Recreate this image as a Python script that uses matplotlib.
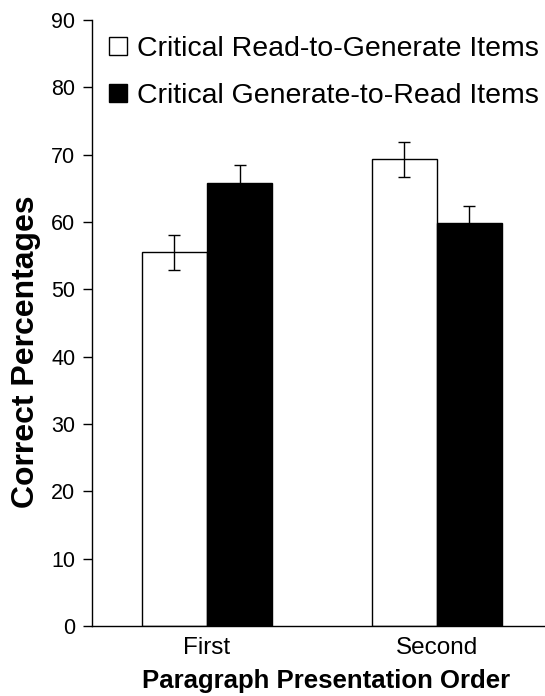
import numpy as np
import matplotlib
matplotlib.use('Agg')
import matplotlib.pyplot as plt
from matplotlib.patches import Patch

plt.rcParams['font.family'] = ['Liberation Sans', 'DejaVu Sans']

# data
orders = ['First', 'Second']
read_to_generate = [55.5, 69.3]
generate_to_read = [65.8, 59.8]
err_rtg = [2.6, 2.6]
err_gtr = [2.6, 2.6]
series_labels = ['Critical Read-to-Generate Items', 'Critical Generate-to-Read Items']

fig = plt.figure(figsize=(5.45, 6.96), dpi=100)
ax = fig.add_axes([92/545, 1 - 626/696, 1 - 92/545, (626 - 20)/696])

x = np.arange(len(orders))
w = 0.283
ekw = dict(elinewidth=1.0, capthick=1.0, ecolor='black')
ax.bar(x - w/2, read_to_generate, w, color='white', edgecolor='black', linewidth=1.0,
       yerr=err_rtg, capsize=4.5, error_kw=ekw)
ax.bar(x + w/2, generate_to_read, w, color='black', edgecolor='black', linewidth=1.0,
       yerr=err_gtr, capsize=4.5, error_kw=ekw)

ax.set_xlim(-0.5, 1.47)
ax.set_ylim(0, 90)
ax.set_yticks(np.arange(0, 91, 10))
ax.set_xticks(x)
ax.set_xticklabels(orders)
ax.tick_params(axis='x', length=0, pad=8, labelsize=17.5)
ax.tick_params(axis='y', length=6.5, width=1, direction='out', labelsize=15.5, pad=5.5)
for s in ['top', 'right']:
    ax.spines[s].set_visible(False)
ax.spines['left'].set_linewidth(1.0)
ax.spines['bottom'].set_linewidth(1.0)

ax.set_ylabel('Correct Percentages', fontsize=23, fontweight='bold')
ax.yaxis.set_label_coords(-0.113, 0.453)
ax.set_xlabel('Paragraph Presentation Order', fontsize=18.5, fontweight='bold')
ax.xaxis.label.set_va('baseline')
ax.xaxis.set_label_coords(0.517, -0.103)

handles = [Patch(facecolor='white', edgecolor='black', linewidth=1.0),
           Patch(facecolor='black', edgecolor='black', linewidth=1.0)]
ax.legend(handles, series_labels, loc='upper left', bbox_to_anchor=(109/545, 1 - 36/696),
          bbox_transform=fig.transFigure, frameon=False, fontsize=20.5,
          handlelength=0.63, handleheight=0.63, handletextpad=0.35,
          labelspacing=0.74, borderaxespad=0, borderpad=0)

fig.savefig('out.png', dpi=100)
